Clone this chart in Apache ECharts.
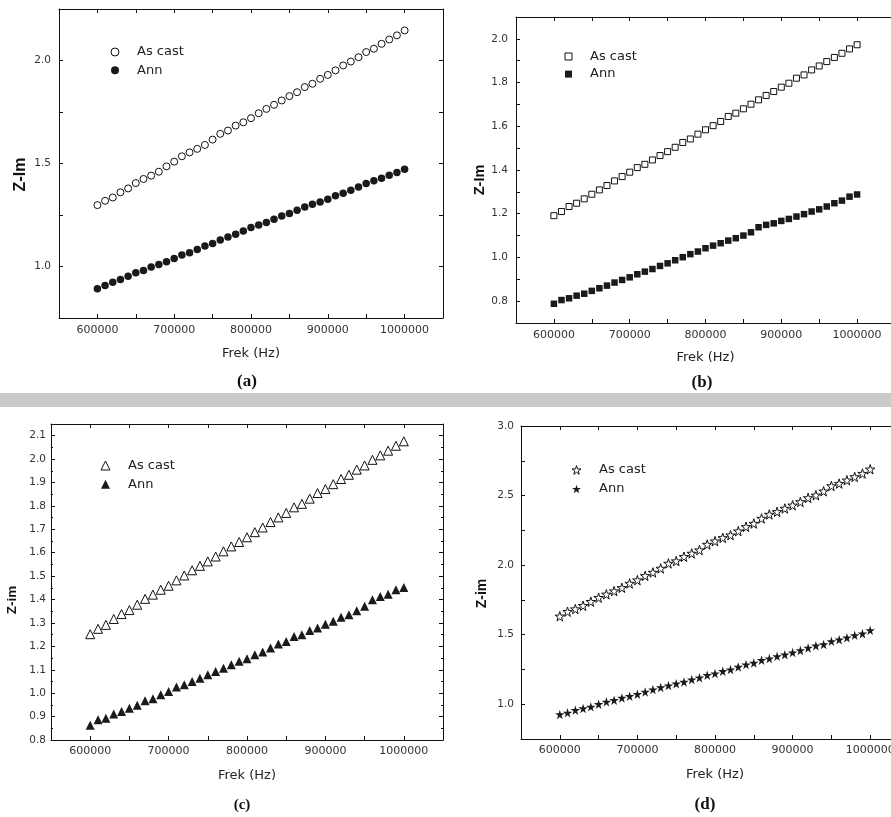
<!DOCTYPE html>
<html><head><meta charset="utf-8">
<script src="https://cdn.jsdelivr.net/npm/echarts@6/dist/echarts.min.js"></script>
<style>html,body{margin:0;padding:0;background:#fff;overflow:hidden}#c{width:930px;height:817px}</style>
</head><body><div id="c"></div>
<script>
// ---- data ----
const freq = [600000,610000,620000,630000,640000,650000,660000,670000,680000,690000,700000,710000,720000,730000,740000,750000,760000,770000,780000,790000,800000,810000,820000,830000,840000,850000,860000,870000,880000,890000,900000,910000,920000,930000,940000,950000,960000,970000,980000,990000,1000000];

const asCastA = [1.298,1.319,1.335,1.360,1.379,1.405,1.425,1.441,1.460,1.486,1.509,1.535,1.554,1.571,1.590,1.616,1.644,1.660,1.684,1.700,1.720,1.744,1.765,1.785,1.806,1.827,1.846,1.871,1.887,1.911,1.930,1.952,1.976,1.995,2.016,2.041,2.057,2.081,2.102,2.122,2.146];
const annA    = [0.892,0.908,0.924,0.937,0.953,0.970,0.981,0.997,1.010,1.023,1.039,1.056,1.067,1.083,1.099,1.112,1.129,1.143,1.156,1.172,1.189,1.202,1.213,1.229,1.245,1.257,1.273,1.289,1.302,1.313,1.326,1.343,1.356,1.370,1.386,1.403,1.416,1.428,1.443,1.456,1.472];

const asCastB = [1.191,1.210,1.233,1.248,1.268,1.289,1.309,1.329,1.350,1.370,1.390,1.411,1.426,1.446,1.466,1.484,1.504,1.526,1.542,1.564,1.584,1.603,1.622,1.645,1.660,1.680,1.701,1.721,1.741,1.759,1.779,1.797,1.820,1.835,1.858,1.876,1.896,1.915,1.934,1.954,1.973];
const annB    = [0.788,0.805,0.813,0.825,0.834,0.847,0.859,0.871,0.885,0.897,0.909,0.923,0.935,0.947,0.961,0.973,0.987,1.001,1.015,1.027,1.042,1.054,1.065,1.077,1.088,1.100,1.115,1.138,1.149,1.156,1.167,1.176,1.187,1.198,1.210,1.220,1.233,1.248,1.260,1.278,1.288];

const asCastC = [1.252,1.275,1.292,1.317,1.338,1.355,1.378,1.403,1.421,1.442,1.459,1.482,1.503,1.525,1.544,1.563,1.584,1.606,1.627,1.646,1.666,1.688,1.708,1.731,1.751,1.770,1.794,1.809,1.831,1.855,1.872,1.893,1.915,1.933,1.955,1.973,1.997,2.016,2.036,2.057,2.076];
const annC    = [0.863,0.886,0.893,0.911,0.922,0.936,0.948,0.968,0.976,0.993,1.007,1.026,1.036,1.050,1.064,1.079,1.093,1.107,1.121,1.136,1.147,1.164,1.176,1.193,1.210,1.221,1.242,1.250,1.268,1.278,1.295,1.307,1.324,1.335,1.352,1.371,1.399,1.413,1.423,1.442,1.452];

const asCastD = [1.632,1.665,1.684,1.708,1.737,1.766,1.790,1.813,1.837,1.868,1.892,1.923,1.947,1.976,2.012,2.029,2.060,2.084,2.108,2.148,2.172,2.196,2.215,2.244,2.275,2.299,2.335,2.364,2.383,2.407,2.430,2.454,2.483,2.502,2.531,2.569,2.586,2.610,2.634,2.658,2.689];
const annD    = [0.926,0.938,0.957,0.969,0.981,1.000,1.017,1.029,1.045,1.057,1.072,1.088,1.105,1.120,1.134,1.148,1.160,1.177,1.191,1.208,1.220,1.237,1.249,1.268,1.285,1.297,1.316,1.328,1.344,1.356,1.371,1.387,1.404,1.421,1.430,1.452,1.464,1.478,1.495,1.507,1.531];

const seriesNames = ['As cast', 'Ann'];
const xTickLabels = [600000, 700000, 800000, 900000, 1000000];
const yTicksA = [1.0, 1.5, 2.0];
const yTicksB = [0.8, 1.0, 1.2, 1.4, 1.6, 1.8, 2.0];
const yTicksC = [0.8, 0.9, 1.0, 1.1, 1.2, 1.3, 1.4, 1.5, 1.6, 1.7, 1.8, 1.9, 2.0, 2.1];
const yTicksD = [1.0, 1.5, 2.0, 2.5, 3.0];
const xTitle = 'Frek (Hz)';
const yTitles = ['Z-Im', 'Z-Im', 'Z-im', 'Z-im'];
const panelTags = ['(a)', '(b)', '(c)', '(d)'];

// ---- presentation ----
const STAR = 'path://M50,2 L61,37 L98,37 L68,59 L79,95 L50,73 L21,95 L32,59 L2,37 L39,37 Z';
const panels = [
  {open: asCastA, fill: annA, yTicks: yTicksA, grid:{left:59, top:9, width:384, height:309},
   yMin:0.75, yMax:2.25, yInt:0.25, minor:false, symbol:'circle', sOpen:7, sFill:7.5,
   legend:{left:110.5, top:45, gap:4.3, icon:8}, xLM:7, yLM:8, xNG:29, yNG:30, yNS:16, yPad:22,
   tag:{x:247, y:382, size:17}},
  {open: asCastB, fill: annB, yTicks: yTicksB, grid:{left:516, top:17, width:379, height:306},
   yMin:0.7, yMax:2.1, yInt:0.1, minor:false, symbol:'rect', sOpen:6, sFill:6.5,
   legend:{left:564.5, top:49.5, gap:3.6, icon:7}, xLM:7, yLM:8, xNG:28, yNG:28.5, yNS:14.5, yPad:20,
   tag:{x:702, y:383, size:17}},
  {open: asCastC, fill: annC, yTicks: yTicksC, grid:{left:51, top:424, width:392, height:316},
   yMin:0.8, yMax:2.15, yInt:0.1, minor:true, symbol:'triangle', sOpen:9, sFill:9,
   legend:{left:100.5, top:458.5, gap:4.7, icon:9}, xLM:6, yLM:5, xNG:29.5, yNG:31.5, yNS:13.5, yPad:36,
   tag:{x:242, y:805, size:15}},
  {open: asCastD, fill: annD, yTicks: yTicksD, grid:{left:521, top:426, width:388, height:313},
   yMin:0.75, yMax:3.0, yInt:0.25, minor:false, symbol:STAR, sOpen:9.5, sFill:9.5,
   legend:{left:571.5, top:463, gap:5, icon:9}, xLM:6, yLM:7, xNG:29, yNG:31.5, yNS:14, yPad:22,
   tag:{x:705, y:805, size:17}}
];

const INK = '#111';
const near = (arr, v, eps) => arr.some(t => Math.abs(t - v) < eps);

const grids = [], xAxes = [], yAxes = [], series = [], legends = [], graphics = [];

// faint grey band of the scanned page
graphics.push({type:'rect', left:0, top:393, shape:{width:930, height:14}, style:{fill:'#c9c9c9'}, z:-10, silent:true});

panels.forEach((p, i) => {
  grids.push(Object.assign({containLabel:false}, p.grid));
  const lineStyle = {color: INK, width: 1};
  const xBase = {gridIndex:i, type:'value', min:550000, max:1050000, interval:50000,
    splitLine:{show:false}, axisLine:{onZero:false, lineStyle},
    axisTick:{inside:true, length:4, lineStyle}};
  xAxes.push(Object.assign({}, xBase, {position:'bottom',
    axisLabel:{interval:0, margin:p.xLM, fontSize:11, color:'#333', fontFamily:'DejaVu Sans',
      formatter: v => near(xTickLabels, v, 1) ? String(v) : ''},
    name: xTitle, nameLocation:'middle', nameGap:p.xNG,
    nameTextStyle:{fontFamily:'DejaVu Sans', fontSize:13, color:'#222'}}));
  xAxes.push(Object.assign({}, xBase, {position:'top', axisLabel:{show:false}}));

  const yBase = {gridIndex:i, type:'value', min:p.yMin, max:p.yMax, interval:p.yInt,
    splitLine:{show:false}, axisLine:{onZero:false, lineStyle},
    axisTick:{inside:true, length:4, lineStyle},
    minorTick:{show:p.minor, splitNumber:2, length:2, lineStyle}};
  yAxes.push(Object.assign({}, yBase, {position:'left',
    axisLabel:{interval:0, margin:p.yLM, fontSize:10.5, color:'#333', fontFamily:'DejaVu Sans',
      formatter: v => near(p.yTicks, v, 1e-6) ? v.toFixed(1) : ''},
    name: yTitles[i], nameLocation:'middle', nameGap:p.yNG,
    nameTextStyle:{fontFamily:'Liberation Sans', fontWeight:'bold', fontSize:p.yNS, color:'#111',
      padding:[0, p.yPad, 0, 0]}}));
  yAxes.push(Object.assign({}, yBase, {position:'right', axisLabel:{show:false}}));

  const openStyle = {color:'#fff', borderColor:INK, borderWidth:1, opacity:1};
  const fillStyle = {color:'#1a1a1a', borderColor:'#1a1a1a', borderWidth:0, opacity:1};
  series.push({type:'scatter', name:seriesNames[0], xAxisIndex:2*i, yAxisIndex:2*i,
    data: freq.map((f, k) => [f, p.open[k]]), symbol:p.symbol, symbolSize:p.sOpen,
    itemStyle:openStyle, silent:true});
  series.push({type:'scatter', name:seriesNames[1], xAxisIndex:2*i, yAxisIndex:2*i,
    data: freq.map((f, k) => [f, p.fill[k]]), symbol:p.symbol, symbolSize:p.sFill,
    itemStyle:fillStyle, silent:true});

  legends.push({orient:'vertical', left:p.legend.left, top:p.legend.top, padding:0,
    itemGap:p.legend.gap, itemWidth:p.legend.icon, itemHeight:p.legend.icon, selectedMode:false,
    textStyle:{fontFamily:'DejaVu Sans', fontSize:13, color:'#222', lineHeight:14, padding:[0,0,0,13]},
    data:[{name:seriesNames[0], icon:p.symbol, itemStyle:openStyle},
          {name:seriesNames[1], icon:p.symbol, itemStyle:fillStyle}]});

  graphics.push({type:'text', x:p.tag.x, y:p.tag.y,
    style:{text:panelTags[i], fill:'#111', font:'bold ' + p.tag.size + 'px "Liberation Serif"',
      textAlign:'center', textVerticalAlign:'middle'}});
});

const chart = echarts.init(document.getElementById('c'), null, {renderer:'canvas'});
chart.setOption({
  backgroundColor:'#ffffff',
  animation:false,
  grid:grids, xAxis:xAxes, yAxis:yAxes, series:series, legend:legends, graphic:graphics
});
</script>
</body></html>
